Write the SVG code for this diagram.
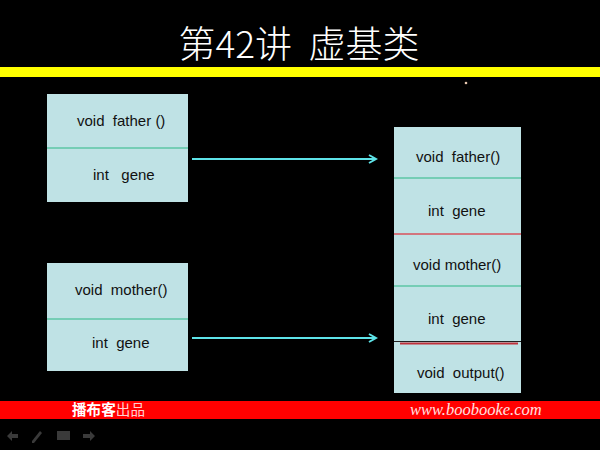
<svg xmlns="http://www.w3.org/2000/svg" width="600" height="450" viewBox="0 0 600 450">
<defs>
<style>
.box{fill:#bfe2e5;}
.lbl{font-family:"Liberation Sans",Arial,sans-serif;font-size:15px;fill:#111;white-space:pre;}
.g{stroke:#5cc6a4;stroke-width:1.3;}
.r{stroke:#d9505a;stroke-width:1.3;}
.conn{stroke:#5ee3e8;stroke-width:2;fill:none;}
.icon{fill:#3a3a3a;}
</style>
<marker id="ah" markerWidth="10" markerHeight="10" refX="8" refY="5" orient="auto" markerUnits="userSpaceOnUse">
<path d="M1,1 L8,5 L1,9" fill="none" stroke="#5ee3e8" stroke-width="2"/>
</marker>
</defs>
<rect width="600" height="450" fill="#000"/>
<text x="299" y="58" text-anchor="middle" font-family="'Noto Sans CJK SC','Liberation Sans',sans-serif" font-size="37" font-weight="300" fill="#fff" style="white-space:pre">第42讲  虚基类</text>
<rect x="0" y="67" width="600" height="10" fill="#ffff00"/>
<circle cx="466" cy="83" r="1.3" fill="#e8c8b0"/>

<g id="father">
<rect class="box" x="47" y="94" width="141" height="108"/>
<line class="g" x1="47" y1="148" x2="188" y2="148"/>
<text class="lbl" x="77" y="126">void  father ()</text>
<text class="lbl" x="93" y="180">int   gene</text>
</g>

<g id="mother">
<rect class="box" x="47" y="263" width="141" height="108"/>
<line class="g" x1="47" y1="319" x2="188" y2="319"/>
<text class="lbl" x="75" y="295">void  mother()</text>
<text class="lbl" x="92" y="348">int  gene</text>
</g>

<g id="derived">
<rect class="box" x="394" y="127" width="127" height="266"/>
<line class="g" x1="394" y1="178" x2="521" y2="178"/>
<line class="r" x1="394" y1="234" x2="521" y2="234"/>
<line class="g" x1="394" y1="286" x2="521" y2="286"/>
<line x1="394" y1="341.5" x2="521" y2="341.5" stroke="#222" stroke-width="1"/>
<line x1="400" y1="343.5" x2="518" y2="343.5" stroke="#c0303a" stroke-width="2"/>
<text class="lbl" x="416" y="162">void  father()</text>
<text class="lbl" x="428" y="216">int  gene</text>
<text class="lbl" x="413" y="270">void mother()</text>
<text class="lbl" x="428" y="324">int  gene</text>
<text class="lbl" x="417" y="378">void  output()</text>
</g>

<g id="connectors">
<line class="conn" x1="192" y1="159" x2="376" y2="159" marker-end="url(#ah)"/>
<line class="conn" x1="192" y1="338" x2="376" y2="338" marker-end="url(#ah)"/>
</g>

<rect x="0" y="401" width="600" height="18" fill="#ff0000"/>
<text x="72" y="415" font-family="'Noto Sans CJK SC',sans-serif" font-size="14.6" fill="#fff"><tspan font-weight="bold">播布客</tspan><tspan fill="#ffd0d0">出品</tspan></text>
<text x="410" y="415" font-family="'Liberation Serif',serif" font-style="italic" font-size="16.5" fill="#ffe0e0">www.boobooke.com</text>

<g id="toolbar">
<path class="icon" d="M7,436 L12,431 L12,434 L18,434 L18,438 L12,438 L12,441 Z"/>
<path class="icon" d="M32,441 L40,431 L42,433 L34,443 L32,443 Z"/>
<rect class="icon" x="57" y="431" width="13" height="9"/>
<path class="icon" d="M95,436 L90,431 L90,434 L83,434 L83,438 L90,438 L90,441 Z"/>
</g>
</svg>
